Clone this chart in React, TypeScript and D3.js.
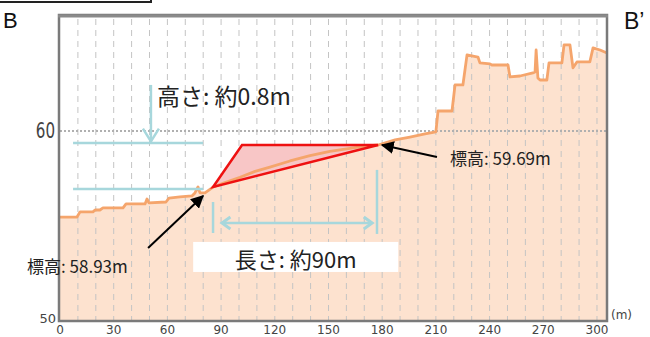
import React from "react";
import * as d3 from "d3";

// Elevation profile (distance m, elevation m)
const distances = [0, 9.5, 11.2, 18.4, 19.6, 22.3, 24, 35.2, 36.9, 47.5, 48.6, 49.7, 59.2, 60.9, 67, 73.7, 75.4, 77.1, 78.2, 81, 85.5, 92.2, 100.6, 109, 117.3, 128.5, 139.7, 150.8, 162, 170.4, 177.7, 187.2, 195.5, 203.9, 210, 211.2, 219, 220.7, 225.1, 227.4, 233.5, 234.6, 240.2, 241.3, 250.3, 251.4, 257, 264.2, 265.4, 266, 267, 268.2, 272, 273.2, 280.4, 281.6, 284.9, 286.6, 288.8, 296, 297.8, 301.7, 305.6];
const elevations = [55.47, 55.47, 55.74, 55.74, 55.84, 55.84, 55.95, 55.95, 56.16, 56.16, 56.42, 56.21, 56.26, 56.47, 56.53, 56.58, 56.74, 57.05, 56.74, 56.74, 57.05, 57.28, 57.56, 57.87, 58.1, 58.42, 58.7, 58.93, 59.08, 59.2, 59.26, 59.53, 59.68, 59.84, 59.95, 61.05, 61.05, 62.42, 62.42, 64.0, 63.89, 63.58, 63.53, 63.47, 63.47, 62.84, 62.89, 63.05, 63.1, 64.26, 62.79, 62.68, 62.68, 63.58, 63.58, 64.53, 64.53, 63.32, 63.63, 63.63, 64.37, 64.26, 64.1];

// Fill triangle (distance, elevation)
const triX = [85.5, 101.7, 177.7];
const triY = [57.05, 59.26, 59.26];

const xTicks = [0, 30, 60, 90, 120, 150, 180, 210, 240, 270, 300];
const gridX = d3.range(10, 301, 10);
const yTickLabels = [{ v: 50, t: "50" }, { v: 60, t: "60" }];

const heightLabel = "高さ: 約0.8m";
const lengthLabel = "長さ: 約90m";
const elevLow = "標高: 58.93m";
const elevHigh = "標高: 59.69m";

const W = 650, H = 337;
const x = d3.scaleLinear().domain([0, 305.6]).range([60, 607]);
const y = d3.scaleLinear().domain([50, 66.1]).range([321, 15]);

const profile = distances.map((d, i) => [d, elevations[i]] as [number, number]);
const lineGen = d3.line<[number, number]>().x(d => x(d[0])).y(d => y(d[1]));
const areaGen = d3.area<[number, number]>().x(d => x(d[0])).y0(y(50)).y1(d => y(d[1]));

const CYAN = "#a7d7dc";
const JP = "'Noto Sans CJK JP', 'Liberation Sans', sans-serif";

function chevron(px: number, py: number, dir: "down" | "left" | "right", s = 8) {
  if (dir === "down") return `M${px - s},${py - s * 1.6} L${px},${py} L${px + s},${py - s * 1.6}`;
  if (dir === "left") return `M${px + s * 1.4},${py - s} L${px},${py} L${px + s * 1.4},${py + s}`;
  return `M${px - s * 1.4},${py - s} L${px},${py} L${px - s * 1.4},${py + s}`;
}

export default function App() {
  const tri = triX.map((d, i) => `${x(d)},${y(triY[i])}`).join(" ");
  return (
    <svg width={W} height={H} style={{ position: "absolute", left: 0, top: 0, background: "#fff" }}>
      <defs>
        <marker id="blk" viewBox="0 0 10 10" refX="9" refY="5" markerWidth="13" markerHeight="13" orient="auto" markerUnits="userSpaceOnUse">
          <path d="M0,0 L10,5 L0,10 Z" fill="#000" />
        </marker>
      </defs>
      {/* top-left box edge */}
      <path d="M0,2 L151,2 L151,0" fill="none" stroke="#222" strokeWidth={2} />
      {/* plot background */}
      <rect x={x(0)} y={y(66.1)} width={x(305.6) - x(0)} height={y(50) - y(66.1)} fill="#fff" />
      <path d={areaGen(profile) || ""} fill="#fde2cf" />
      {/* grid */}
      {gridX.map(g => (
        <line key={g} x1={x(g)} x2={x(g)} y1={y(66.1) + 4} y2={y(50)} stroke="#c4c4c4" strokeWidth={1} strokeDasharray="6,5" />
      ))}
      <line x1={x(0)} x2={x(305.6)} y1={y(60)} y2={y(60)} stroke="#b0b0b0" strokeWidth={2} strokeDasharray="2,2" />
      {/* triangle */}
      <polygon points={tri} fill="#f8c6c6" />
      <path d={lineGen(profile) || ""} fill="none" stroke="#f5a56c" strokeWidth={2.8} strokeLinejoin="round" />
      <polygon points={tri} fill="none" stroke="#ee1111" strokeWidth={2.5} strokeLinejoin="miter" />
      {/* frame */}
      <rect x={x(0) - 1} y={y(66.1)} width={x(305.6) - x(0) + 1} height={y(50) - y(66.1)} fill="none" stroke="#7a7a7a" strokeWidth={2.5} />
      <line x1={x(0) - 2} x2={x(305.6) + 1} y1={y(66.1) + 1} y2={y(66.1) + 1} stroke="#8a8a8a" strokeWidth={3} />
      {/* cyan height annotation */}
      <line x1={x(7.3)} x2={x(79.9)} y1={y(59.37)} y2={y(59.37)} stroke={CYAN} strokeWidth={2.5} />
      <line x1={x(7.3)} x2={x(79.9)} y1={y(56.95)} y2={y(56.95)} stroke={CYAN} strokeWidth={2.5} />
      <line x1={x(50.8)} x2={x(50.8)} y1={y(62.42)} y2={y(59.45)} stroke={CYAN} strokeWidth={2.5} />
      <path d={chevron(x(50.8), y(59.45), "down", 8)} fill="none" stroke={CYAN} strokeWidth={2.5} />
      <text x={x(54.2)} y={y(61.35)} fontFamily={JP} fontSize={23} fill="#222">{heightLabel}</text>
      {/* cyan length annotation */}
      <line x1={x(85.5)} x2={x(85.5)} y1={y(56.26)} y2={y(54.63)} stroke={CYAN} strokeWidth={2.5} />
      <line x1={x(177.1)} x2={x(177.1)} y1={y(57.95)} y2={y(54.58)} stroke={CYAN} strokeWidth={2.5} />
      <line x1={x(90.5)} x2={x(174.4)} y1={y(55.16)} y2={y(55.16)} stroke={CYAN} strokeWidth={2.5} />
      <path d={chevron(x(90.5), y(55.16), "left", 6)} fill="none" stroke={CYAN} strokeWidth={3} />
      <path d={chevron(x(174.4), y(55.16), "right", 6)} fill="none" stroke={CYAN} strokeWidth={3} />
      <rect x={x(74.4)} y={y(54.16)} width={x(189) - x(74.4)} height={y(52.58) - y(54.16)} fill="#fff" />
      <text x={(x(74.4) + x(189)) / 2} y={y(52.78)} textAnchor="middle" fontFamily={JP} fontSize={22} fill="#222">{lengthLabel}</text>
      {/* black arrows */}
      <line x1={x(49.2)} y1={y(53.84)} x2={x(79.9)} y2={y(56.58)} stroke="#000" strokeWidth={2} markerEnd="url(#blk)" />
      <line x1={x(210.6)} y1={y(58.63)} x2={x(179.9)} y2={y(59.26)} stroke="#000" strokeWidth={2} markerEnd="url(#blk)" />
      <text x={27} y={y(52.55)} fontFamily={JP} fontSize={17} fill="#222">{elevLow}</text>
      <text x={450} y={y(58.2)} fontFamily={JP} fontSize={17} fill="#222">{elevHigh}</text>
      {/* axis labels */}
      {xTicks.map(t => (
        <text key={t} x={x(t)} y={334} textAnchor="middle" fontFamily="'DejaVu Sans', sans-serif" fontSize={12} fill="#444">{t}</text>
      ))}
      {yTickLabels.map(t => (
        t.v === 60 ? (
          <text key={t.v} transform={`translate(55,${y(t.v) + 7}) scale(0.72,1)`} textAnchor="end" fontFamily="'DejaVu Sans', sans-serif" fontSize={21} fill="#444">{t.t}</text>
        ) : (
          <text key={t.v} x={56} y={y(t.v) + 2} textAnchor="end" fontFamily="'DejaVu Sans', sans-serif" fontSize={13} fill="#444">{t.t}</text>
        )
      ))}
      <text x={611} y={319} fontFamily="'DejaVu Sans', sans-serif" fontSize={12} fill="#444">(m)</text>
      <text x={3} y={28} fontFamily="'Liberation Sans', sans-serif" fontSize={22} fill="#111">B</text>
      <text x={624} y={29} fontFamily="'Liberation Sans', sans-serif" fontSize={23} fill="#111">B’</text>
    </svg>
  );
}
